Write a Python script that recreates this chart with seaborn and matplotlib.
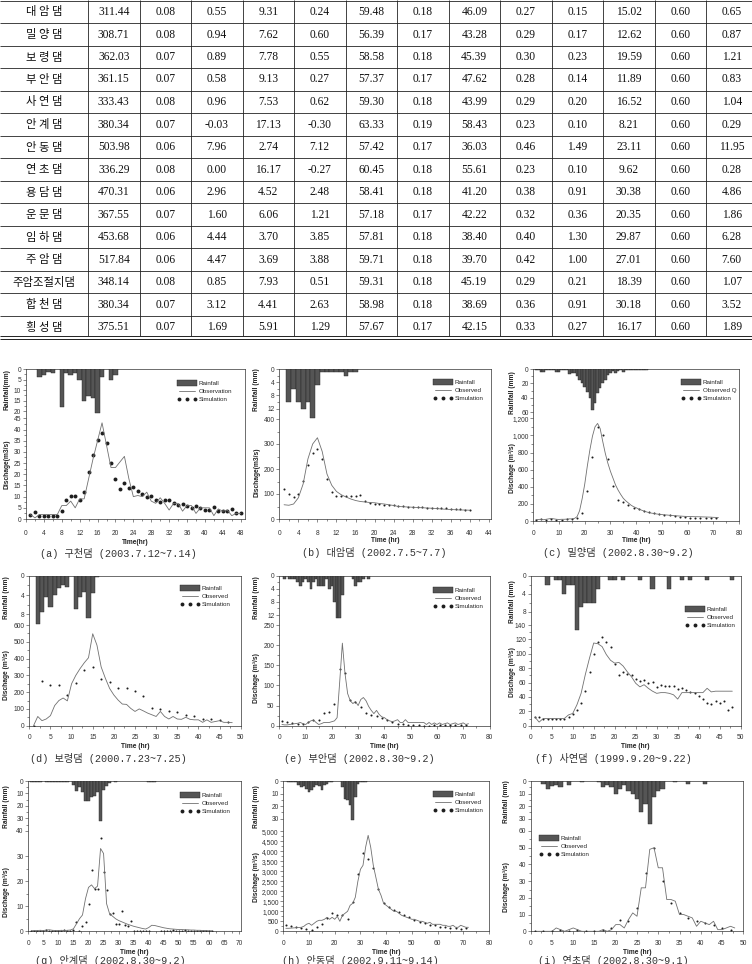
import numpy as np
import matplotlib
matplotlib.use("Agg")
import matplotlib.pyplot as plt
from matplotlib.patches import Patch
from matplotlib.lines import Line2D
from matplotlib.ticker import FixedLocator, FuncFormatter
import seaborn as sns

sns.set_theme(style="ticks")
plt.rcParams['font.family'] = ['Liberation Sans', 'Noto Sans CJK KR', 'DejaVu Sans']

# ---------------- table data ----------------
dam_names = ["대 암 댐", "밀 양 댐", "보 령 댐", "부 안 댐", "사 연 댐", "안 계 댐", "안 동 댐", "연 초 댐",
             "용 담 댐", "운 문 댐", "임 하 댐", "주 암 댐", "주암조절지댐", "합 천 댐", "횡 성 댐"]
c01 = [311.44, 308.71, 362.03, 361.15, 333.43, 380.34, 503.98, 336.29, 470.31, 367.55, 453.68, 517.84, 348.14, 380.34, 375.51]
c02 = [0.08, 0.08, 0.07, 0.07, 0.08, 0.07, 0.06, 0.08, 0.06, 0.07, 0.06, 0.06, 0.08, 0.07, 0.07]
c03 = [0.55, 0.94, 0.89, 0.58, 0.96, -0.03, 7.96, 0.00, 2.96, 1.60, 4.44, 4.47, 0.85, 3.12, 1.69]
c04 = [9.31, 7.62, 7.78, 9.13, 7.53, 17.13, 2.74, 16.17, 4.52, 6.06, 3.70, 3.69, 7.93, 4.41, 5.91]
c05 = [0.24, 0.60, 0.55, 0.27, 0.62, -0.30, 7.12, -0.27, 2.48, 1.21, 3.85, 3.88, 0.51, 2.63, 1.29]
c06 = [59.48, 56.39, 58.58, 57.37, 59.30, 63.33, 57.42, 60.45, 58.41, 57.18, 57.81, 59.71, 59.31, 58.98, 57.67]
c07 = [0.18, 0.17, 0.18, 0.17, 0.18, 0.19, 0.17, 0.18, 0.18, 0.17, 0.18, 0.18, 0.18, 0.18, 0.17]
c08 = [46.09, 43.28, 45.39, 47.62, 43.99, 58.43, 36.03, 55.61, 41.20, 42.22, 38.40, 39.70, 45.19, 38.69, 42.15]
c09 = [0.27, 0.29, 0.30, 0.28, 0.29, 0.23, 0.46, 0.23, 0.38, 0.32, 0.40, 0.42, 0.29, 0.36, 0.33]
c10 = [0.15, 0.17, 0.23, 0.14, 0.20, 0.10, 1.49, 0.10, 0.91, 0.36, 1.30, 1.00, 0.21, 0.91, 0.27]
c11 = [15.02, 12.62, 19.59, 11.89, 16.52, 8.21, 23.11, 9.62, 30.38, 20.35, 29.87, 27.01, 18.39, 30.18, 16.17]
c12 = [0.60] * 15
c13 = [0.65, 0.87, 1.21, 0.83, 1.04, 0.29, 11.95, 0.28, 4.86, 1.86, 6.28, 7.60, 1.07, 3.52, 1.89]

# ---------------- hydrograph data ----------------
# (a) 구천댐
rain_a_hr = [3, 4, 5, 6, 8, 9, 10, 11, 12, 13, 14, 15, 16, 17, 19, 20]
rain_a_mm = [4, 3, 1.5, 2, 18, 2, 3, 2, 5, 15, 13, 14, 21, 4, 5, 3]
obs_a_hr = list(range(1, 49))
obs_a_q = [2, 0.5, 2, 2, 2, 2, 2, 6, 6, 8, 5, 9, 9, 18, 27, 35, 43, 33, 23, 23, 25.5, 28, 18, 10,
           10.5, 10, 12, 8, 7, 9.5, 7, 4, 7, 7, 3.5, 6, 6, 2.5, 5, 5, 5, 1.5, 4.5, 3.5, 4, 1.5, 2.5, 2.5]
sim_a_hr = list(range(1, 49))
sim_a_q = [2, 3.3, 1.5, 1.5, 1.5, 1.5, 1.5, 3.5, 8.5, 10.3, 10.3, 8.3, 12, 21, 28.5, 35.5, 38.5, 34, 25, 18,
           13.5, 16.3, 14, 14.3, 12.7, 11, 9.7, 10.3, 8.5, 7.7, 8.3, 8.5, 7, 6.3, 6.7, 5.7, 5, 5.7, 4.7, 4.2,
           4.2, 5.5, 3.5, 3.5, 3.4, 4.3, 2.5, 2.5]

# (b) 대암댐
rain_b_hr = [2, 3, 4, 5, 6, 7, 8, 9, 10, 11, 12, 13, 14, 15, 16]
rain_b_mm = [10, 6, 10, 12, 10, 15, 5, 1, 1, 1, 1, 1, 2, 1, 1]
obs_b_hr = list(range(1, 41))
obs_b_q = [57, 55, 60, 85, 140, 240, 300, 325, 270, 180, 135, 110, 97, 88, 80, 74, 70, 68, 66, 65,
           62, 60, 57, 54, 50, 49, 48, 47, 46, 45, 44, 43, 42, 40, 39, 38, 37, 36, 36, 35]
sim_b_hr = list(range(1, 41))
sim_b_q = [120, 100, 88, 102, 153, 218, 265, 280, 240, 160, 107, 92, 92, 93, 93, 94, 96, 72, 65, 62,
           60, 58, 57, 55, 52, 51, 50, 49, 48, 47, 46, 45, 45, 44, 43, 42, 41, 40, 38, 36]

# (c) 밀양댐
rain_c_hr = list(range(1, 45))
rain_c_mm = [1, 2, 4, 4, 2, 2, 1, 1, 4, 4, 2, 2, 1, 7, 6, 5, 10, 15, 20, 25, 32, 40, 57, 48, 34, 27,
             20, 15, 8, 5, 3, 5, 3, 2, 4, 2, 1, 2, 1, 1, 1, 1, 1, 1]
obs_c_hr = list(range(1, 73))
obs_c_q = [15, 18, 20, 15, 20, 25, 30, 25, 20, 18, 20, 20, 22, 25, 25, 30, 50, 120, 260, 430, 640, 830,
           990, 1100, 1140, 1080, 930, 790, 675, 580, 500, 420, 360, 310, 265, 235, 210, 185, 167, 155,
           140, 128, 117, 107, 97, 92, 87, 82, 78, 75, 72, 70, 67, 64, 62, 60, 58, 56, 54, 53, 52, 51,
           50, 50, 49, 48, 47, 46, 45, 43, 42, 40]
sim_c_hr = list(range(1, 72, 2))
sim_c_q = [15, 18, 10, 20, 15, 15, 20, 25, 30, 90, 350, 750, 1100, 1010, 720, 410, 250, 220, 185, 150,
           135, 115, 100, 90, 80, 70, 65, 55, 50, 45, 40, 40, 35, 35, 30, 30]

# (d) 보령댐
rain_d_hr = [2, 3, 4, 5, 6, 7, 8, 9, 11, 12, 13, 14, 15, 16]
rain_d_mm = [10, 7.5, 4.3, 6.5, 4, 2.5, 2, 2.3, 6.8, 4.3, 3.3, 8.7, 3.5, 0.3]
obs_d_hr = list(range(1, 49))
obs_d_q = [0, 55, 30, 40, 60, 120, 150, 165, 148, 250, 300, 340, 375, 405, 548, 480, 350, 282, 222, 183,
           153, 129, 127, 103, 85, 100, 88, 75, 65, 55, 85, 55, 40, 55, 40, 38, 50, 38, 35, 35,
           20, 35, 20, 25, 30, 20, 20, 18]
sim_d_hr = list(range(1, 48, 2))
sim_d_q = [0, 265, 240, 240, 185, 255, 330, 350, 280, 260, 222, 225, 207, 175, 105, 100, 90, 80, 62, 55,
           40, 38, 32, 25]

# (e) 부안댐
rain_e_hr = [2, 4, 5, 6, 7, 8, 9, 10, 11, 12, 13, 14, 15, 16, 17, 18, 19, 20, 21, 22, 23, 24, 28, 29, 30, 31, 32, 34]
rain_e_mm = [1, 1, 1, 1, 2, 3, 2, 1, 2, 4, 2, 1, 3, 3, 3, 1, 4, 3, 8, 13, 13, 6, 1, 3, 2, 2, 1, 1]
obs_e_hr = list(range(1, 73))
obs_e_q = [3, 2, 2, 3, 4, 5, 6, 8, 5, 3, 8, 12, 14, 8, 3, 5, 8, 8, 8, 10, 12, 20, 110, 205, 130, 80, 62,
           55, 60, 50, 65, 70, 62, 48, 38, 30, 38, 28, 22, 20, 15, 12, 10, 12, 15, 8, 8, 15, 8, 8,
           8, 8, 8, 8, 8, 3, 8, 3, 7, 3, 7, 3, 5, 7, 3, 5, 7, 3, 5, 7, 3, 5]
sim_e_hr = list(range(1, 72, 2))
sim_e_q = [12, 8, 7, 5, 3, 8, 15, 15, 32, 35, 55, 140, 130, 64, 58, 47, 31, 27, 25, 20, 14, 10, 5, 3,
           2, 2, 1, 0, 0, 1, 1, 2, 2, 2, 2, 2]

# (f) 사연댐
rain_f_hr = [4, 6, 7, 8, 9, 10, 11, 12, 13, 14, 15, 16, 19, 20, 22, 26, 29, 33, 36, 38, 42, 48]
rain_f_mm = [2, 1, 1, 4, 2, 2, 12, 7, 6, 6, 6, 3, 1, 1, 1, 1, 3, 3, 1, 1, 1, 1]
obs_f_hr = list(range(1, 49))
obs_f_q = [12, 5, 10, 10, 10, 10, 10, 10, 15, 17, 29, 45, 71, 94, 115, 114, 110, 99, 91, 87, 88, 83, 75,
           68, 59, 54, 57, 52, 48, 45, 46, 46, 45, 43, 37, 46, 46, 46, 46, 46, 46, 52, 47, 48, 48, 48, 48, 48]
sim_f_hr = list(range(1, 49))
sim_f_q = [12, 12, 10, 10, 10, 10, 10, 10, 12, 16, 22, 32, 48, 75, 100, 117, 123, 117, 110, 86, 71, 75,
           72, 70, 65, 62, 63, 60, 61, 54, 56, 55, 55, 55, 51, 52, 49, 47, 45, 41, 37, 32, 30, 34, 32, 35, 22, 26]

# (g) 안계댐
rain_g_hr = [1, 2, 3, 4, 6, 7, 8, 9, 10, 11, 12, 13, 15, 16, 17, 18, 19, 20, 21, 22, 23, 24, 25, 26, 27, 29, 40, 41, 42]
rain_g_mm = [1, 1, 1, 1, 1, 1, 1, 1, 1, 1, 1, 1, 3, 8, 5, 9, 16, 16, 13, 12, 9, 32, 7, 4, 2, 0.5, 1, 1, 1]
obs_g_hr = list(range(1, 62))
obs_g_q = [0.2, 0.3, 0.3, 0.4, 0.3, 0.5, 0.6, 0.4, 0.3, 0.3, 0.4, 0.3, 0.4, 0.5, 1, 3, 5, 6.5, 13, 17.5,
           18.5, 17, 18, 33, 31, 11, 7, 6, 5, 4.3, 3.8, 3.3, 2.8, 2.4, 2, 1.7, 1.4, 1.1, 0.9, 1.5,
           2.4, 2.3, 2, 1.7, 1.4, 1.2, 1, 0.9, 0.8, 0.7, 0.7, 0.6, 0.6, 0.5, 0.5, 0.4, 0.4, 0.3, 0.3, 0.2, 0.2]
sim_g_hr = list(range(1, 62))
sim_g_q = [0.3, 0.3, 0.2, 0.3, 0.3, 0.4, 0.3, 0.3, 0.2, 0.3, 0.3, 0.4, 0.3, 0.2, 0.5, 3.6, 0.1, 2.3, 3.6, 11,
           24.4, 17, 16.7, 37, 23.5, 16.5, 6.9, 7.2, 2.8, 3, 8.1, 2.5, 2.3, 4.3, 0.3, 0.2, 0, 0.2, 0, 0.3,
           -0.8, -0.8, -0.8, 0, 0.2, 0.3, 0.2, 0.4, 0.3, 0.2, 0.3, 0.4, 0.3, 0.2, 0.3, 0.3, 0.2, 0.3, 0.2, 0.3, 0.2]

# (h) 안동댐
rain_h_hr = [2, 3, 4, 5, 6, 7, 8, 9, 10, 11, 12, 13, 14, 15, 16, 17, 18, 19, 23, 24, 25, 26, 27, 28, 29, 30, 31, 32]
rain_h_mm = [1, 1, 1, 1, 3, 5, 4, 6, 9, 7, 5, 3, 4, 7, 3, 2, 1, 1, 5, 14, 15, 19, 31, 13, 2, 1, 1, 0.5]
obs_h_hr = list(range(1, 73))
obs_h_q = [150, 150, 160, 170, 180, 190, 200, 250, 350, 400, 300, 400, 500, 550, 550, 600, 700, 600, 700, 600,
           750, 500, 800, 900, 1000, 1300, 1400, 1700, 2500, 3100, 3300, 4200, 4800, 4200, 3300, 2700, 2100, 1800, 1400, 1300,
           1200, 1100, 1000, 1000, 900, 800, 750, 700, 650, 600, 600, 550, 500, 500, 450, 400, 450, 350, 350, 350,
           350, 300, 300, 250, 250, 300, 200, 200, 300, 250, 200, 200]
sim_h_hr = list(range(1, 72, 2))
sim_h_q = [300, 250, 200, 150, 100, 50, 200, 350, 650, 900, 800, 800, 600, 1450, 2850, 3900, 3600, 3150, 2100, 1400,
           1200, 1050, 950, 800, 700, 550, 450, 400, 300, 300, 200, 200, 150, 150, 100, 150]

# (i) 연초댐
rain_i_hr = [3, 4, 5, 6, 7, 9, 12, 16, 17, 18, 19, 20, 21, 22, 23, 24, 25, 26, 27, 28, 29, 30, 31, 34, 37, 41]
rain_i_mm = [2, 6, 4, 3, 5, 3, 1, 1, 5, 3, 5, 10, 6, 3, 8, 10, 14, 25, 18, 34, 13, 8, 6, 1, 2, 2]
obs_i_hr = list(range(1, 49))
obs_i_q = [0, 0, 0, 0, 0, 2, 1, 0, 1, 2, 1, 0, 0, 0, 0, 0, 1, 0, 1, 4, 4, 2, 7, 11, 9, 26, 26, 49, 50, 38,
           38, 19, 19, 18, 10, 10, 9, 8, 3, 6, 5, 4, 6, 1, 1, 2, 3, 2]
sim_i_hr = list(range(1, 48, 2))
sim_i_q = [0, 0, 0, 1, 0, 1, 0, 0, 1, 2, 7, 6, 14, 35, 50, 30, 17, 11, 8, 6, 5, 4, 2, 1]

# ---------------- figure ----------------
W, H = 752, 964
fig = plt.figure(figsize=(W / 100, H / 100), dpi=100)


def px_axes(l, t, r, b):
    return fig.add_axes([l / W, 1 - b / H, (r - l) / W, (b - t) / H])


def ftxt(x, y, s, **kw):
    fig.text(x / W, 1 - y / H, s, **kw)


# ---- table ----
tab = px_axes(0, 0, W, 345)
tab.set_xlim(0, W)
tab.set_ylim(345, 0)
tab.axis('off')
row_h = 22.5
col_edges = [88 + 51.5 * i for i in range(13)]
line_c = '#222222'
for k in range(15):
    tab.hlines(0.6 + row_h * k, 0, W, color=line_c, lw=0.6)
tab.hlines([336.3, 339.3], 0, W, color=line_c, lw=0.7)
tab.vlines(col_edges, 0, 336.3, color=line_c, lw=0.6)
columns = [c01, c02, c03, c04, c05, c06, c07, c08, c09, c10, c11, c12, c13]
for k, name in enumerate(dam_names):
    yc = row_h * k + 12
    tab.text(44, yc, name, ha='center', va='center', fontsize=8.2,
             family=['Noto Sans CJK KR'], color='#111111')
    for j, col in enumerate(columns):
        xc = col_edges[0] + 51.5 * j + 25.75
        tab.text(xc, yc, f"{col[k]:.2f}", ha='center', va='center', fontsize=8.3,
                 family=['Liberation Serif'], color='#111111')

BAR_C, BAR_E = '#555555', '#222222'
OBS_C, SIM_C = '#707070', '#1e1e1e'


def mids(t):
    return [(a + b) / 2 for a, b in zip(t[:-1], t[1:])]


def draw_panel(box, xlim, xstep, R, D, rticks, dticks, rain_hr, rain_mm, obs_hr, obs_q, sim_hr, sim_q,
               rlab, dlab, tlab, leg_labels, leg_xy, cap, cap_xy, rlab_xy, dlab_xy, tlab_y,
               dot_s=2.2, comma=False, xpad=4.0):
    l, t, r, b = box
    ax = px_axes(l, t, r, b)
    ax2 = ax.twinx()
    sns.lineplot(x=obs_hr, y=obs_q, ax=ax, color=OBS_C, linewidth=0.6)
    sns.scatterplot(x=sim_hr, y=sim_q, ax=ax, s=dot_s, color=SIM_C, linewidth=0)
    sns.barplot(x=rain_hr, y=rain_mm, ax=ax2, native_scale=True, orient='x', width=1.0,
                color=BAR_C, edgecolor=BAR_E, linewidth=0.3, saturation=1, errorbar=None)
    ax.set_xlim(*xlim)
    ax.set_ylim(0, D)
    ax2.set_ylim(R, 0)
    ax.set_xlabel('')
    ax.set_ylabel('')
    ax2.set_ylabel('')
    xt = list(np.arange(0, xlim[1] + 1e-6, xstep))
    ax.xaxis.set_major_locator(FixedLocator(xt))
    ax.xaxis.set_minor_locator(FixedLocator(mids(xt)))
    ax.yaxis.set_major_locator(FixedLocator(dticks))
    ax.yaxis.set_minor_locator(FixedLocator(mids(dticks)))
    ax2.yaxis.tick_left()
    ax2.yaxis.set_major_locator(FixedLocator(rticks))
    ax2.yaxis.set_minor_locator(FixedLocator(mids(rticks)))
    if comma:
        ax.yaxis.set_major_formatter(FuncFormatter(lambda v, p: f"{int(v):,}"))
    else:
        ax.yaxis.set_major_formatter(FuncFormatter(lambda v, p: f"{int(v)}"))
    ax2.yaxis.set_major_formatter(FuncFormatter(lambda v, p: f"{int(v)}"))
    ax.xaxis.set_major_formatter(FuncFormatter(lambda v, p: f"{int(v)}"))
    for a in (ax, ax2):
        a.tick_params(which='both', direction='out', colors='#333333', width=0.4)
        a.tick_params(which='major', length=2.2, labelsize=4.8, pad=1.2)
        a.tick_params(which='minor', length=1.2)
    ax.tick_params(axis='x', which='major', pad=xpad)
    ax.tick_params(axis='x', bottom=True, top=False)
    ax.tick_params(axis='y', left=True, right=False)
    ax2.tick_params(axis='y', which='both', left=True, right=False, labelleft=True, labelright=False)
    for sp in ax.spines.values():
        sp.set_visible(True)
        sp.set_linewidth(0.5)
        sp.set_color('#333333')
    for sp in ax2.spines.values():
        sp.set_visible(False)
    handles = [Patch(facecolor=BAR_C, edgecolor=BAR_E, linewidth=0.3),
               Line2D([], [], color=OBS_C, lw=0.6),
               Line2D([], [], ls='none', marker='o', ms=2.8, color=SIM_C, mew=0)]
    ax2.legend(handles, leg_labels, loc='upper left', bbox_to_anchor=(leg_xy[0] / W, 1 - leg_xy[1] / H),
               bbox_transform=fig.transFigure, frameon=False, fontsize=4.5, handlelength=3.2,
               handleheight=1.1, labelspacing=0.3, handletextpad=0.3, borderpad=0, borderaxespad=0,
               numpoints=3)
    lab_kw = dict(rotation=90, ha='center', va='center', fontsize=4.8, fontweight='bold', color='#222222')
    ftxt(rlab_xy[0], rlab_xy[1], rlab, **lab_kw)
    ftxt(dlab_xy[0], dlab_xy[1], dlab, **lab_kw)
    ftxt((l + r) / 2, tlab_y, tlab, ha='center', va='center', fontsize=4.8, fontweight='bold', color='#222222')
    ftxt(cap_xy[0], cap_xy[1], cap, ha='center', va='center', fontsize=7.3,
         family=['Liberation Mono', 'Noto Sans CJK KR'], color='#333333')


LEG_STD = ["Rainfall", "Observed", "Simulation"]
DIS_U = "Dischage (m\u00b3/s)"

draw_panel((26, 369, 245, 519), (0, 48.96), 4, 71.4, 67.06, [0, 5, 10, 15, 20], list(range(0, 46, 5)),
           rain_a_hr, rain_a_mm, obs_a_hr, obs_a_q, sim_a_hr, sim_a_q,
           "Rainfall(mm)", "Dischage(m3/s)", "Time(hr)", ["Rainfall", "Observation", "Simulation"],
           (177, 380), "(a) 구천댐 (2003.7.12~7.14)", (118, 553), (7, 390), (7, 464), 542, dot_s=8, xpad=5.5)

draw_panel((279.3, 369, 490.7, 519), (0, 44.35), 4, 45.5, 600, [0, 4, 8, 12], [0, 100, 200, 300, 400],
           rain_b_hr, rain_b_mm, obs_b_hr, obs_b_q, sim_b_hr, sim_b_q,
           "Rainfall (mm)", "Dischage(m3/s)", "Time (hr)", LEG_STD,
           (433, 379), "(b) 대암댐 (2002.7.5~7.7)", (374, 552), (257, 390), (257, 472), 541, xpad=5.5)

draw_panel((533.3, 369, 739, 521), (0, 80), 10, 212, 1776, [0, 20, 40, 60], list(range(0, 1201, 200)),
           rain_c_hr, rain_c_mm, obs_c_hr, obs_c_q, sim_c_hr, sim_c_q,
           "Rainfall (mm)", DIS_U, "Time (hr)", ["Rainfall", "Observed Q", "Simulation"],
           (681, 379), "(c) 밀양댐 (2002.8.30~9.2)", (618, 552), (512, 393), (512, 468), 541, comma=True)

draw_panel((29.3, 575.7, 240.7, 725.7), (0, 50), 5, 31.0, 894, [0, 4, 8], list(range(0, 601, 100)),
           rain_d_hr, rain_d_mm, obs_d_hr, obs_d_q, sim_d_hr, sim_d_q,
           "Rainfall (mm)", DIS_U, "Time (hr)", LEG_STD,
           (180, 585), "(d) 보령댐 (2000.7.23~7.25)", (108, 758), (7, 598), (7, 675), 747)

draw_panel((279.3, 575.7, 489.5, 725.7), (0, 80), 10, 45.8, 372.5, [0, 4, 8, 12], list(range(0, 251, 50)),
           rain_e_hr, rain_e_mm, obs_e_hr, obs_e_q, sim_e_hr, sim_e_q,
           "Rainfall (mm)", DIS_U, "Time (hr)", LEG_STD,
           (433, 587), "(e) 부안댐 (2002.8.30~9.2)", (359, 758), (257, 598), (257, 678), 747)

draw_panel((530.7, 575.7, 740.7, 725.7), (0, 50), 5, 33.3, 208.6, [0, 4, 8], list(range(0, 141, 20)),
           rain_f_hr, rain_f_mm, obs_f_hr, obs_f_q, sim_f_hr, sim_f_q,
           "Rainfall (mm)", DIS_U, "Time (hr)", LEG_STD,
           (685, 606), "(f) 사연댐 (1999.9.20~9.22)", (613, 758), (512, 602), (512, 672), 747)

draw_panel((28.3, 781, 240.7, 931.3), (0, 70.55), 5, 120.3, 59.9, [0, 10, 20, 30, 40], [0, 10, 20, 30],
           rain_g_hr, rain_g_mm, obs_g_hr, obs_g_q, sim_g_hr, sim_g_q,
           "Rainfall (mm)", DIS_U, "Time (hr)", LEG_STD,
           (180, 792), "(g) 안계댐 (2002.8.30~9.2)", (110, 960), (7, 807), (7, 892), 952)

draw_panel((283.3, 781, 489, 931.3), (0, 80), 10, 119.7, 7517, [0, 10, 20, 30], list(range(0, 5001, 500)),
           rain_h_hr, rain_h_mm, obs_h_hr, obs_h_q, sim_h_hr, sim_h_q,
           "Rainfall (mm)", DIS_U, "Time (hr)", LEG_STD,
           (433, 791), "(h) 안동댐 (2002.9.11~9.14)", (360, 960), (257, 807), (257, 877), 952, comma=True)

draw_panel((530.7, 781, 743.3, 931.3), (0, 50), 5, 119.7, 89.9, [0, 10, 20, 30], list(range(0, 61, 10)),
           rain_i_hr, rain_i_mm, obs_i_hr, obs_i_q, sim_i_hr, sim_i_q,
           "Rainfall (mm)", DIS_U, "Time (hr)", LEG_STD,
           (539, 835), "(i) 연초댐 (2002.8.30~9.1)", (613, 960), (507, 802), (507, 887), 952)

fig.savefig("out.png", dpi=100, facecolor='white')
